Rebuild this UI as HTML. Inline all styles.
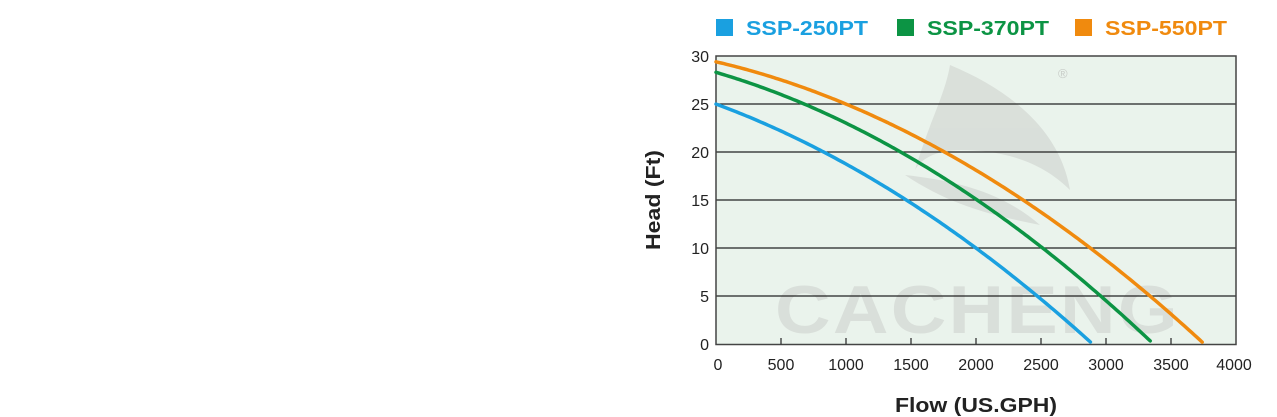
<!DOCTYPE html>
<html><head><meta charset="utf-8"><style>
html,body{margin:0;padding:0;background:#fff;width:1277px;height:417px;overflow:hidden}
</style></head><body>
<svg id="s" width="1277" height="417" xmlns="http://www.w3.org/2000/svg" font-family="Liberation Sans, sans-serif">
<rect x="716" y="56" width="520" height="288.5" fill="#eaf3ec"/>
<g fill="#d6dbd6" opacity="0.8">
<path d="M950 65 C1010 90 1060 130 1070 190 C1040 160 1000 150 960 150 C935 150 920 160 915 170 C930 120 945 95 950 65Z"/>
<path d="M905 175 C950 180 1000 190 1040 225 C990 215 950 205 905 175Z"/>
<text x="775" y="333" font-size="68" font-weight="bold" letter-spacing="2" textLength="405" lengthAdjust="spacingAndGlyphs">CACHENG</text>
</g>
<text x="1058" y="78" font-size="13" fill="#c8ccc8">®</text>
<g stroke="#222" stroke-width="1.3">
<line x1="716" y1="104" x2="1236" y2="104"/><line x1="716" y1="152" x2="1236" y2="152"/>
<line x1="716" y1="200" x2="1236" y2="200"/><line x1="716" y1="248" x2="1236" y2="248"/>
<line x1="716" y1="296" x2="1236" y2="296"/>
</g>
<rect x="716" y="56" width="520" height="288.5" fill="none" stroke="#444" stroke-width="1.5"/>
<g stroke="#333" stroke-width="1.3" id="ticks"></g>
<g id="curves" fill="none" stroke-width="3.5" stroke-linecap="round"></g>
<g font-size="16" fill="#222" text-anchor="end">
<text x="709" y="62">30</text><text x="709" y="110">25</text><text x="709" y="158">20</text>
<text x="709" y="206">15</text><text x="709" y="254">10</text><text x="709" y="302">5</text><text x="709" y="350">0</text>
</g>
<g font-size="16" fill="#222" text-anchor="middle">
<text x="718" y="370">0</text><text x="781" y="370">500</text><text x="846" y="370">1000</text>
<text x="911" y="370">1500</text><text x="976" y="370">2000</text><text x="1041" y="370">2500</text>
<text x="1106" y="370">3000</text><text x="1171" y="370">3500</text><text x="1234" y="370">4000</text>
</g>
<text x="895" y="412" font-size="20" font-weight="bold" fill="#222" textLength="162" lengthAdjust="spacingAndGlyphs">Flow (US.GPH)</text>
<text transform="translate(660,250) rotate(-90)" font-size="20" font-weight="bold" fill="#222" textLength="100" lengthAdjust="spacingAndGlyphs">Head (Ft)</text>
<rect x="716" y="19" width="17" height="17" fill="#1aa0e0"/>
<text x="746" y="35" font-size="20" font-weight="bold" fill="#1aa0e0" textLength="122" lengthAdjust="spacingAndGlyphs">SSP-250PT</text>
<rect x="897" y="19" width="17" height="17" fill="#0c9444"/>
<text x="927" y="35" font-size="20" font-weight="bold" fill="#0c9444" textLength="122" lengthAdjust="spacingAndGlyphs">SSP-370PT</text>
<rect x="1075" y="19" width="17" height="17" fill="#f08a0e"/>
<text x="1105" y="35" font-size="20" font-weight="bold" fill="#f08a0e" textLength="122" lengthAdjust="spacingAndGlyphs">SSP-550PT</text>
</svg>
<script>
var NS="http://www.w3.org/2000/svg";
var t=document.getElementById("ticks");
for(var i=1;i<8;i++){var x=716+i*65;var l=document.createElementNS(NS,"line");l.setAttribute("x1",x);l.setAttribute("x2",x);l.setAttribute("y1",338);l.setAttribute("y2",344.5);t.appendChild(l);}
var c=document.getElementById("curves");
[[25,0.00498,1.254e-6,2880,"#1aa0e0"],[28.3,0.00396,1.318e-6,3355,"#0c9444"],[29.4,0.00316,1.239e-6,3745,"#f08a0e"]].forEach(function(p){
var d="";for(var q=0;q<=p[3];q+=20){var h=p[0]-p[1]*q-p[2]*q*q;if(h<0.2)h=0.2;d+=(q?"L":"M")+(716+q*0.13).toFixed(1)+" "+(344.5-h*9.617).toFixed(1);}
var pa=document.createElementNS(NS,"path");pa.setAttribute("d",d);pa.setAttribute("stroke",p[4]);c.appendChild(pa);});
</script>
</body></html>
